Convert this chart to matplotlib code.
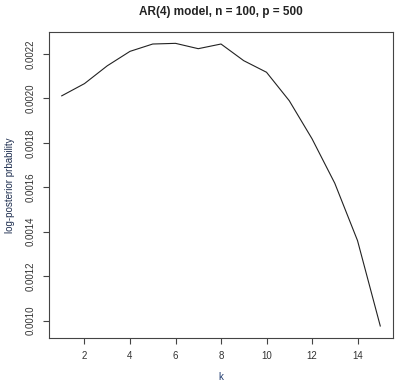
import matplotlib
matplotlib.use("Agg")
import matplotlib.pyplot as plt

plt.rcParams['font.family'] = ['Liberation Sans', 'DejaVu Sans']

# log-posterior probability for each k
k = [1, 2, 3, 4, 5, 6, 7, 8, 9, 10, 11, 12, 13, 14, 15]
logpost = [0.002011, 0.002066, 0.002146, 0.002211, 0.002244, 0.002247, 0.002223,
           0.002244, 0.002169, 0.002117, 0.001989, 0.001818, 0.001618, 0.001360, 0.000976]
x_ticks = [2, 4, 6, 8, 10, 12, 14]
y_ticks = [0.0010, 0.0012, 0.0014, 0.0016, 0.0018, 0.0020, 0.0022]

fig = plt.figure(figsize=(3.99, 3.87), dpi=100)
ax = fig.add_axes([0.1228, 0.1266, 0.8622, 0.7907])

ax.plot(k, logpost, color='#222222', linewidth=0.8)

ax.set_xlim(0.44, 15.56)
ax.set_ylim(0.000922, 0.002298)
ax.set_xticks(x_ticks)
ax.set_xticklabels([str(t) for t in x_ticks])
ax.set_yticks(y_ticks)
ax.set_yticklabels([f"{t:.4f}" for t in y_ticks], rotation=90, va='center')

ax.tick_params(direction='out', length=4.5, width=0.8, colors='#444444',
               labelsize=7, labelcolor='#333333', pad=5)
for s in ax.spines.values():
    s.set_color('#444444')
    s.set_linewidth(0.8)

ax.set_title("AR(4) model, n = 100, p = 500", fontsize=8.5, fontweight='bold',
             color='#222222', pad=12)
ax.set_xlabel("k", fontsize=7, color='#1f3a6e', labelpad=8)
ax.set_ylabel("log-posterior prbability", fontsize=7, color='#1f2f50', labelpad=8)

fig.savefig("out.png", dpi=100)
